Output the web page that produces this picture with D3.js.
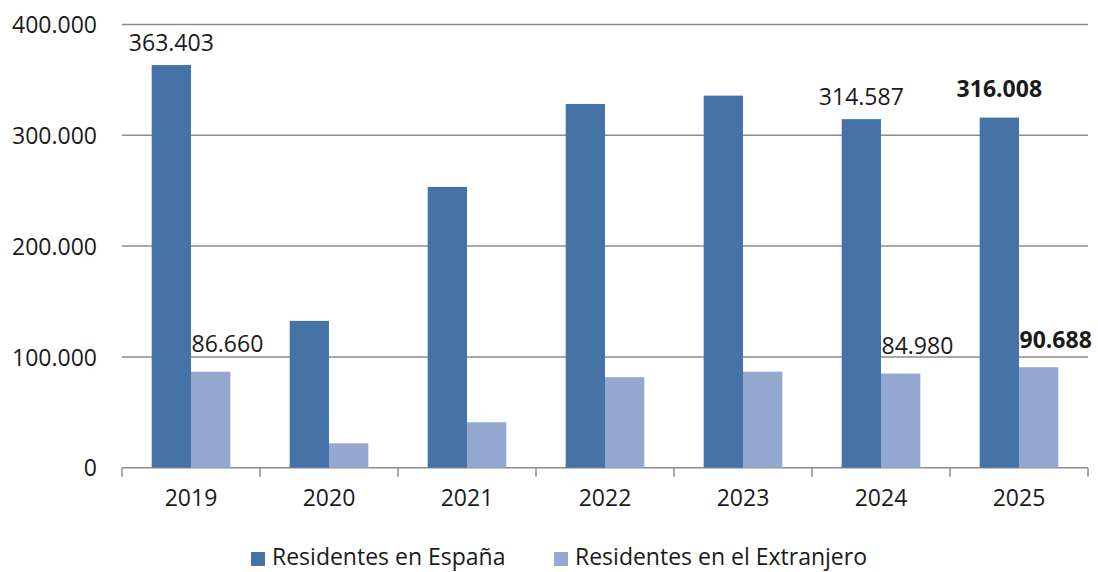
<!DOCTYPE html>
<html>
<head>
<meta charset="utf-8">
<script src="https://cdn.jsdelivr.net/npm/d3@7"></script>
<style>
  body { margin: 0; background: #fff; }
  svg text { font-family: "Open Sans", sans-serif; fill: #1a1a1a; }
</style>
</head>
<body>
<svg id="chart" width="1098" height="572"></svg>
<script>
// chart data
var years = ["2019", "2020", "2021", "2022", "2023", "2024", "2025"];
var residentesEspana = [363403, 132500, 253400, 328300, 335800, 314587, 316008];
var residentesExtranjero = [86660, 22000, 41000, 81700, 86700, 84980, 90688];
var yTicks = [0, 100000, 200000, 300000, 400000];
var labelledYears = ["2019", "2024", "2025"];
var boldYears = ["2025"];
var seriesNames = ["Residentes en España", "Residentes en el Extranjero"];
var colors = ["#4572a7", "#95a9d0"];

var svg = d3.select("#chart");
// note: "top" clashes with window.top, so use plot* names
var plotLeft = 122, plotRight = 1088, plotTop = 24.5, plotBottom = 467.7;

var es = d3.formatLocale({ decimal: ",", thousands: ".", grouping: [3] });
var fmt = es.format(",d");

var x = d3.scaleBand().domain(years).range([plotLeft, plotRight]).padding(0);
var inner = d3.scaleBand().domain([0, 1]).range([0, x.bandwidth()])
  .paddingInner(0).paddingOuter(0.755);
var y = d3.scaleLinear().domain([0, 400000]).range([plotBottom, plotTop]);

// gridlines
svg.append("g").selectAll("line").data(yTicks).enter().append("line")
  .attr("x1", plotLeft).attr("x2", plotRight)
  .attr("y1", d => y(d)).attr("y2", d => y(d))
  .attr("stroke", "#8c8c8c").attr("stroke-width", 1.5);

// y axis labels
var yAxis = d3.axisLeft(y).tickValues(yTicks).tickSize(0).tickPadding(25).tickFormat(fmt);
var gy = svg.append("g").attr("transform", "translate(" + plotLeft + ",0)").call(yAxis);
gy.select(".domain").remove();
gy.selectAll("text").attr("font-size", "23px").attr("fill", "#1a1a1a")
  .attr("font-family", "Open Sans, sans-serif").attr("dy", "0.36em");

// x axis
var xAxis = d3.axisBottom(x).tickSize(0).tickPadding(22);
var gx = svg.append("g").attr("transform", "translate(0," + plotBottom + ")").call(xAxis);
gx.select(".domain").remove();
gx.selectAll("text").attr("font-size", "23px").attr("fill", "#1a1a1a")
  .attr("font-family", "Open Sans, sans-serif");
var bounds = years.map(d => x(d)).concat([plotRight]);
gx.selectAll(".sep").data(bounds).enter().append("line")
  .attr("x1", d => d).attr("x2", d => d)
  .attr("y1", 0).attr("y2", 9)
  .attr("stroke", "#8c8c8c").attr("stroke-width", 1.5);

// bars
var rows = years.map((yr, i) => ({ year: yr, vals: [residentesEspana[i], residentesExtranjero[i]] }));
var groups = svg.append("g").selectAll("g").data(rows).enter().append("g")
  .attr("transform", d => "translate(" + x(d.year) + ",0)");
groups.selectAll("rect").data(d => d.vals.map((v, k) => ({ v: v, k: k }))).enter().append("rect")
  .attr("x", d => inner(d.k))
  .attr("width", inner.bandwidth())
  .attr("y", d => y(d.v))
  .attr("height", d => plotBottom - y(d.v))
  .attr("fill", d => colors[d.k]);

// data labels
groups.filter(d => labelledYears.indexOf(d.year) >= 0).each(function (d) {
  var g = d3.select(this);
  var bold = boldYears.indexOf(d.year) >= 0;
  g.append("text")
    .attr("x", inner(0) + inner.bandwidth() / 2)
    .attr("y", y(d.vals[0]) - (bold ? 21 : 14))
    .attr("text-anchor", "middle")
    .attr("font-size", "23px")
    .attr("font-weight", bold ? "bold" : "normal")
    .text(fmt(d.vals[0]));
  g.append("text")
    .attr("x", inner(1) + 0.5)
    .attr("y", y(d.vals[1]) - 19.5)
    .attr("text-anchor", "start")
    .attr("font-size", "23px")
    .attr("font-weight", bold ? "bold" : "normal")
    .text(fmt(d.vals[1]));
});

// legend
var legendX = [251, 554];
var lg = svg.append("g").selectAll("g").data(seriesNames).enter().append("g")
  .attr("transform", (d, i) => "translate(" + legendX[i] + ",552)");
lg.append("rect").attr("width", 14).attr("height", 14).attr("fill", (d, i) => colors[i]);
lg.append("text").attr("x", 21).attr("y", 12.7).attr("font-size", "23px").text(d => d);
</script>
</body>
</html>
